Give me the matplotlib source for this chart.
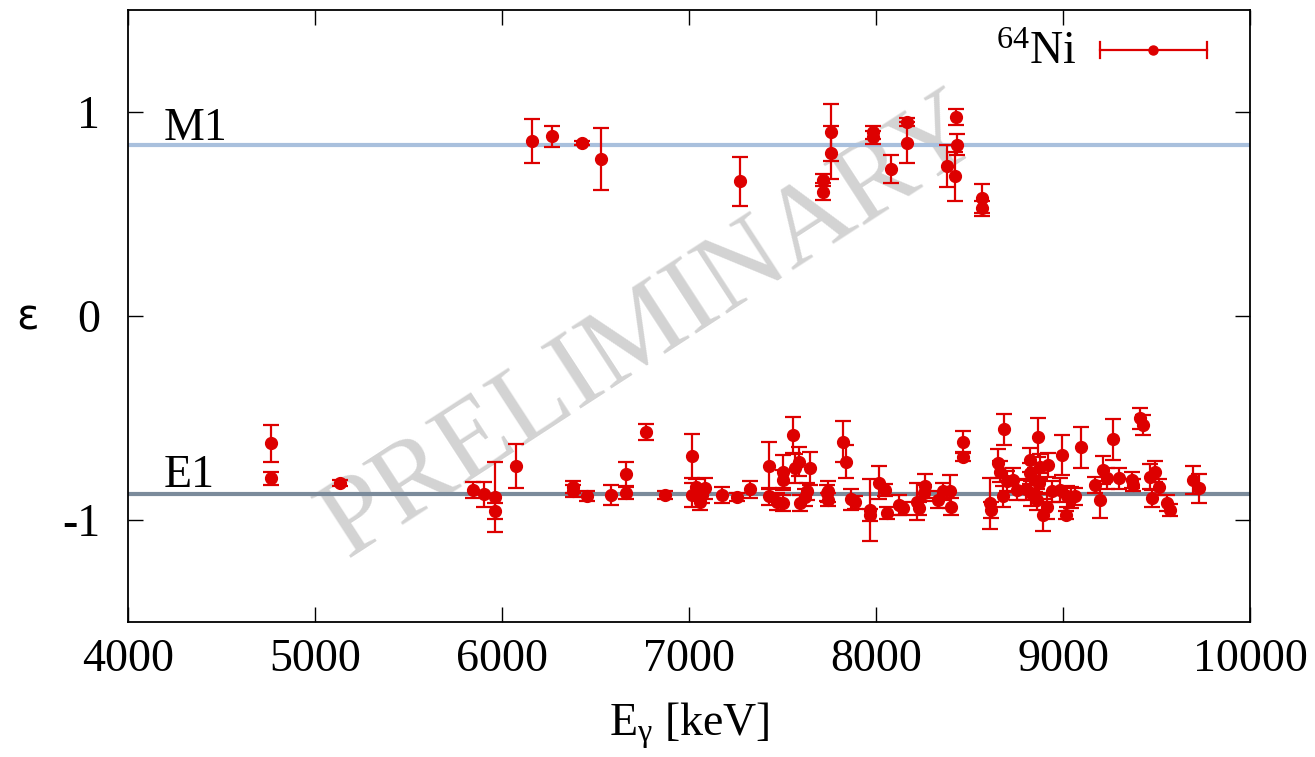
import matplotlib
matplotlib.use("Agg")
import matplotlib.pyplot as plt

plt.rcParams['font.family'] = ['Liberation Serif', 'DejaVu Serif']
plt.rcParams['mathtext.fontset'] = 'custom'
plt.rcParams['mathtext.rm'] = 'Liberation Serif'
plt.rcParams['mathtext.it'] = 'Liberation Serif'
plt.rcParams['axes.unicode_minus'] = False

# M1-like transitions: energy [keV], polarization asymmetry, uncertainty
m1_energy = [6160, 6267, 6428, 6529, 7273, 7718, 7718, 7759, 7759, 7986,
             7986, 8080, 8164, 8164, 8380, 8424, 8428, 8433, 8568, 8568]
m1_eps = [0.858, 0.88, 0.85, 0.77, 0.66, 0.667, 0.61, 0.90, 0.80, 0.90,
          0.875, 0.72, 0.95, 0.85, 0.735, 0.686, 0.977, 0.84, 0.577, 0.527]
m1_err = [0.11, 0.05, 0.01, 0.15, 0.12, 0.03, 0.04, 0.14, 0.13, 0.03,
          0.03, 0.07, 0.02, 0.10, 0.105, 0.12, 0.04, 0.05, 0.07, 0.035]

# E1-like transitions
e1_energy = [4766, 4766, 5132, 5847, 5905, 5963, 5963, 6073, 6381, 6381,
             6453, 6581, 6663, 6663, 6768, 6872, 7014, 7014, 7036, 7059,
             7086, 7070, 7178, 7255, 7326, 7429, 7429, 7468, 7500, 7500,
             7500, 7558, 7567, 7590, 7647, 7595, 7620, 7630, 7736, 7745,
             7745, 7825, 7840, 7864, 7888, 7968, 7968, 8018, 8048, 8057,
             8123, 8146, 8217, 8262, 8255, 8230, 8333, 8360, 8396, 8400,
             8467, 8467, 8610, 8615, 8654, 8663, 8681, 8686, 8698, 8734,
             8752, 8823, 8823, 8850, 8864, 8877, 8921, 8859, 8895, 8912,
             8993, 8984, 9020, 9016, 9064, 9094, 9171, 9198, 9215, 9233,
             9269, 9301, 9367, 9376, 9412, 9430, 9465, 9492, 9515, 9474,
             9558, 9572, 9693, 9729, 8800, 8830, 8870, 8940, 9040]
e1_eps = [-0.624, -0.796, -0.817, -0.853, -0.874, -0.887, -0.956, -0.735, -0.84, -0.858,
          -0.884, -0.877, -0.775, -0.869, -0.567, -0.877, -0.686, -0.877, -0.84, -0.91,
          -0.845, -0.877, -0.877, -0.889, -0.85, -0.735, -0.884, -0.91, -0.763, -0.804,
          -0.918, -0.583, -0.747, -0.714, -0.747, -0.918, -0.889, -0.86, -0.869, -0.86,
          -0.90, -0.616, -0.714, -0.899, -0.914, -0.951, -0.975, -0.817, -0.853, -0.964,
          -0.926, -0.943, -0.91, -0.833, -0.869, -0.943, -0.90, -0.86, -0.86, -0.934,
          -0.616, -0.693, -0.918, -0.951, -0.722, -0.763, -0.884, -0.556, -0.81, -0.804,
          -0.853, -0.706, -0.771, -0.804, -0.595, -0.738, -0.73, -0.90, -0.975, -0.934,
          -0.681, -0.853, -0.884, -0.975, -0.884, -0.644, -0.828, -0.90, -0.755, -0.796,
          -0.605, -0.796, -0.804, -0.828, -0.502, -0.534, -0.787, -0.763, -0.837, -0.894,
          -0.918, -0.951, -0.804, -0.845, -0.85, -0.87, -0.82, -0.86, -0.89]
e1_err = [0.09, 0.03, 0.015, 0.04, 0.06, 0.17, 0.04, 0.11, 0.03, 0.03,
          0.025, 0.05, 0.06, 0.03, 0.04, 0.02, 0.11, 0.06, 0.04, 0.04,
          0.05, 0.04, 0.04, 0.02, 0.04, 0.115, 0.04, 0.04, 0.08, 0.05,
          0.04, 0.09, 0.07, 0.07, 0.08, 0.04, 0.04, 0.04, 0.04, 0.05,
          0.03, 0.10, 0.08, 0.05, 0.03, 0.15, 0.03, 0.08, 0.03, 0.03,
          0.05, 0.03, 0.09, 0.06, 0.04, 0.03, 0.04, 0.04, 0.08, 0.04,
          0.05, 0.02, 0.126, 0.04, 0.07, 0.05, 0.05, 0.078, 0.05, 0.06,
          0.05, 0.06, 0.05, 0.06, 0.095, 0.06, 0.06, 0.05, 0.08, 0.06,
          0.10, 0.06, 0.05, 0.02, 0.04, 0.10, 0.04, 0.09, 0.07, 0.05,
          0.10, 0.05, 0.04, 0.03, 0.05, 0.05, 0.06, 0.05, 0.04, 0.04,
          0.04, 0.03, 0.07, 0.07, 0.05, 0.06, 0.05, 0.05, 0.05]

# Reference asymmetries for pure multipoles
eps_m1 = 0.838
eps_e1 = -0.873

red = '#dd0000'
fs = 33

fig = plt.figure(figsize=(13.15, 7.57), dpi=100)
ax = fig.add_axes([0.0973, 0.1783, 0.8533, 0.8085])

ax.text(0.468, 0.48, 'PRELIMINARY', transform=ax.transAxes, fontsize=81,
        color='#d3d3d3', rotation=33, ha='center', va='center', zorder=0)

ax.axhline(eps_m1, color='#a9c0dd', lw=3, zorder=1)
ax.axhline(eps_e1, color='#7b8b9b', lw=3, zorder=1)

for xs, ys, es in [(m1_energy, m1_eps, m1_err), (e1_energy, e1_eps, e1_err)]:
    ax.errorbar(xs, ys, yerr=es, fmt='o', color=red, ms=8.5, elinewidth=1.6,
                capsize=6, capthick=1.6, zorder=3)

ax.text(4193, 0.863, 'M1', fontsize=fs, va='baseline', ha='left')
ax.text(4193, -0.838, 'E1', fontsize=fs, va='baseline', ha='left')

# legend key: horizontal bar with caps and a point
lx0, lx1, ly = 0.866, 0.9617, 0.9346
ax.plot([lx0, lx1], [ly, ly], color=red, lw=1.6, transform=ax.transAxes, zorder=4)
for cx in (lx0, lx1):
    ax.plot([cx, cx], [ly - 0.013, ly + 0.013], color=red, lw=1.6,
            transform=ax.transAxes, zorder=4)
ax.plot([(lx0 + lx1) / 2], [ly], 'o', color=red, ms=6.5, transform=ax.transAxes, zorder=4)
ax.text(0.845, ly - 0.005, r'$^{64}$Ni', transform=ax.transAxes, fontsize=fs,
        ha='right', va='center')

ax.set_xlim(4000, 10000)
ax.set_ylim(-1.5, 1.5)
ax.set_xticks([4000, 5000, 6000, 7000, 8000, 9000, 10000])
ax.set_yticks([-1, 0, 1])
ax.set_yticklabels(['-1', '0', '1'])
ax.tick_params(direction='in', length=11, width=1, labelsize=fs,
               top=True, right=True)
ax.tick_params(axis='x', pad=12)
ax.tick_params(axis='y', pad=20)
for s in ax.spines.values():
    s.set_linewidth(1.3)

ax.set_xlabel(r'E$_\gamma$ [keV]', fontsize=fs, labelpad=14)
fig.text(28 / 1315, 1 - 318 / 757, 'ε', fontsize=30, ha='center', va='center',
         family='DejaVu Sans')

fig.savefig('out.png', dpi=100)
